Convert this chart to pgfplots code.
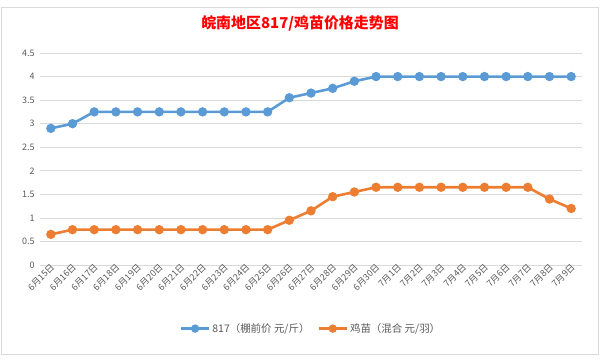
\documentclass[border=0pt]{standalone}
\usepackage{pgfplots}
\pgfplotsset{compat=1.18}
\usepackage{fontspec}
\setmainfont{Noto Sans CJK SC}
\definecolor{bl}{HTML}{5B9BD5}
\definecolor{og}{HTML}{ED7D31}
\definecolor{gr}{HTML}{D9D9D9}
\definecolor{tx}{HTML}{595959}
\begin{document}
\begin{tikzpicture}[x=1bp,y=1bp]
\path[use as bounding box] (0,0) rectangle (600,359);
\draw[gr] (1.5,5) rectangle (598.5,352);
\node[text=red, font=\fontsize{15}{17}\selectfont\bfseries] at (300,336) {皖南地区817/鸡苗价格走势图};
\begin{axis}[
  at={(40bp,94bp)}, anchor=south west,
  width=542bp, height=212bp, scale only axis,
  xmin=-0.5, xmax=24.5, ymin=0, ymax=4.5,
  ytick={0,0.5,...,4.5},
  yticklabels={0,0.5,1,1.5,2,2.5,3,3.5,4,4.5},
  xtick={0,...,24},
  xticklabels={6月15日,6月16日,6月17日,6月18日,6月19日,6月20日,6月21日,6月22日,6月23日,6月24日,6月25日,6月26日,6月27日,6月28日,6月29日,6月30日,7月1日,7月2日,7月3日,7月4日,7月5日,7月6日,7月7日,7月8日,7月9日},
  xticklabel style={rotate=45, anchor=east, font=\fontsize{9}{10}\selectfont, text=tx, inner sep=1bp, yshift=-2bp, xshift=2bp},
  yticklabel style={font=\fontsize{9}{10}\selectfont, text=tx, xshift=-2bp},
  ymajorgrids, grid style={gr, line width=0.75bp},
  axis x line*=bottom, axis y line*=left,
  y axis line style={draw=none},
  x axis line style={gr, line width=0.75bp},
  extra x ticks={-0.5,...,24.5}, extra x tick labels={},
  extra x tick style={major tick length=4bp, tick style={gr, line width=0.75bp}, tick align=outside, grid=none},
  xtick style={draw=none}, ytick style={draw=none},
  major tick length=0pt,
  legend style={at={(0.5,-0.30)}, anchor=center, draw=none, font=\fontsize{10.5}{11}\selectfont, text=tx, legend columns=2, /tikz/every even column/.append style={column sep=6bp}},
  legend cell align=left,
  legend image code/.code={\draw[mark repeat=2,mark phase=2, mark size=2.8bp] plot coordinates {(0bp,0bp)(14bp,0bp)(28bp,0bp)};},
]
\addplot[bl, line width=2.6bp, mark=*, mark size=3.3bp] coordinates {
(0,2.9)(1,3.0)(2,3.25)(3,3.25)(4,3.25)(5,3.25)(6,3.25)(7,3.25)(8,3.25)(9,3.25)(10,3.25)
(11,3.55)(12,3.65)(13,3.75)(14,3.9)(15,4)(16,4)(17,4)(18,4)(19,4)(20,4)(21,4)(22,4)(23,4)(24,4)};
\addlegendentry{817（棚前价 元/斤）}
\addplot[og, line width=2.6bp, mark=*, mark size=3.3bp] coordinates {
(0,0.65)(1,0.75)(2,0.75)(3,0.75)(4,0.75)(5,0.75)(6,0.75)(7,0.75)(8,0.75)(9,0.75)(10,0.75)
(11,0.95)(12,1.15)(13,1.45)(14,1.55)(15,1.65)(16,1.65)(17,1.65)(18,1.65)(19,1.65)(20,1.65)(21,1.65)(22,1.65)(23,1.4)(24,1.2)};
\addlegendentry{鸡苗（混合 元/羽）}
\end{axis}
\end{tikzpicture}
\end{document}
